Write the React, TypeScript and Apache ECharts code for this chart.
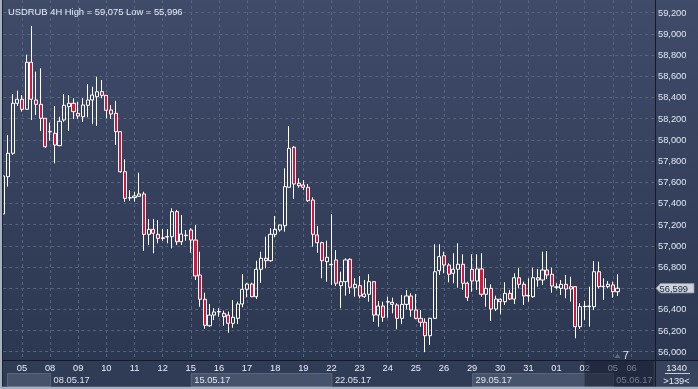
import React, { useEffect, useRef } from "react";
import * as echarts from "echarts";

const W = 698;
const H = 389;
const FONT = '"Liberation Sans", Arial, sans-serif';

// trading days on screen and how many 4H bars each one has
const dayNames = ["04.05", "05.05", "08.05", "09.05", "10.05", "11.05", "12.05", "15.05", "16.05", "17.05", "18.05", "19.05", "22.05", "23.05", "24.05", "25.05", "26.05", "29.05", "30.05", "31.05", "01.06", "02.06", "05.06"];
const barsPerDay = [4, 6, 6, 6, 6, 6, 6, 6, 6, 6, 6, 6, 6, 6, 6, 6, 6, 6, 6, 6, 6, 6, 2];
// empty slots right of the last bar
const futureSlots = ["05.06|2", "05.06|3", "06.06|0", "06.06|1", "06.06|2", "06.06|3", "06.06|4", "06.06|5"];

const weekFirstDay = ["08.05", "15.05", "22.05", "29.05", "05.06"];
const weekLabels = ["08.05.17", "15.05.17", "22.05.17", "29.05.17", "05.06.17"];
const shadedFromDay = "02.06";

const opens = [57300, 57652, 57873, 58345, 58383, 58288, 58732, 58376, 58335, 58203, 58075, 58062, 57945, 58187, 58313, 58345, 58250, 58218, 58326, 58376, 58407, 58455, 58420, 58282, 58250, 58077, 57699, 57451, 57454, 57467, 57489, 57108, 57155, 57108, 57070, 57083, 57086, 57322, 57038, 57095, 57149, 57054, 56724, 56495, 56245, 56346, 56375, 56362, 56346, 56268, 56315, 56450, 56589, 56639, 56519, 56778, 56882, 56859, 57108, 57149, 57189, 57552, 57930, 57590, 57574, 57552, 57432, 57102, 57029, 56850, 56825, 56866, 56623, 56661, 56872, 56604, 56623, 56519, 56542, 56661, 56346, 56431, 56469, 56466, 56441, 56315, 56447, 56526, 56394, 56315, 56278, 56151, 56315, 56765, 56906, 56818, 56740, 56778, 56825, 56646, 56778, 56667, 56781, 56542, 56598, 56403, 56495, 56472, 56551, 56497, 56698, 56636, 56526, 56519, 56698, 56677, 56771, 56731, 56608, 56598, 56636, 56614, 56614, 56236, 56429, 56425, 56425, 56755, 56614, 56614, 56630, 56566];
const closes = [57659, 57873, 58345, 58383, 58288, 58732, 58383, 58335, 58203, 57935, 58080, 57951, 58175, 58326, 58345, 58266, 58225, 58329, 58376, 58423, 58454, 58420, 58279, 58244, 58077, 57699, 57448, 57454, 57470, 57489, 57108, 57155, 57118, 57070, 57075, 57086, 57322, 57038, 57111, 57100, 57054, 56715, 56495, 56249, 56346, 56375, 56380, 56330, 56268, 56325, 56450, 56589, 56639, 56519, 56778, 56882, 56859, 57108, 57155, 57196, 57558, 57920, 57583, 57567, 57552, 57425, 57108, 57029, 56859, 56891, 56820, 56646, 56661, 56866, 56608, 56636, 56526, 56545, 56661, 56346, 56431, 56325, 56472, 56447, 56315, 56447, 56526, 56394, 56315, 56278, 56151, 56315, 56755, 56897, 56818, 56731, 56778, 56825, 56646, 56513, 56667, 56781, 56542, 56598, 56403, 56497, 56472, 56551, 56497, 56698, 56636, 56526, 56532, 56698, 56677, 56771, 56724, 56620, 56612, 56636, 56592, 56592, 56236, 56425, 56425, 56431, 56755, 56614, 56617, 56636, 56566, 56599];
const lows = [57290, 57558, 57857, 58319, 58266, 58285, 58187, 58234, 58083, 57926, 57992, 57778, 57940, 58171, 58083, 58197, 58197, 58171, 58213, 58147, 58131, 58392, 58203, 58197, 57951, 57690, 57416, 57425, 57416, 57465, 56953, 57007, 56929, 57023, 57048, 57023, 56976, 57007, 57007, 57048, 56934, 56677, 56425, 56217, 56236, 56299, 56330, 56245, 56179, 56226, 56261, 56419, 56513, 56515, 56497, 56651, 56787, 56850, 57080, 57133, 57133, 57550, 57441, 57548, 57526, 57416, 56991, 56934, 56693, 56661, 56630, 56620, 56410, 56529, 56545, 56519, 56504, 56510, 56472, 56283, 56236, 56283, 56321, 56362, 56211, 56259, 56400, 56330, 56306, 56236, 55996, 56063, 56310, 56724, 56740, 56655, 56646, 56604, 56582, 56479, 56566, 56582, 56519, 56425, 56290, 56384, 56353, 56441, 56488, 56450, 56598, 56441, 56472, 56510, 56614, 56630, 56686, 56557, 56589, 56535, 56504, 56472, 56126, 56214, 56300, 56236, 56394, 56598, 56488, 56598, 56510, 56526];
const highs = [57670, 58046, 58433, 58464, 58423, 58804, 59075, 58643, 58675, 58205, 58162, 58319, 58218, 58433, 58423, 58392, 58360, 58392, 58527, 58502, 58596, 58565, 58420, 58329, 58369, 58077, 57816, 57526, 57510, 57690, 57510, 57253, 57253, 57243, 57158, 57158, 57354, 57338, 57290, 57149, 57165, 57196, 56944, 56557, 56450, 56410, 56410, 56387, 56378, 56488, 56472, 56733, 56651, 56651, 56859, 56944, 57086, 57165, 57281, 57200, 57731, 58131, 57942, 57637, 57621, 57583, 57457, 57187, 57038, 57048, 57300, 56960, 56755, 56882, 56882, 56693, 56715, 56677, 56731, 56667, 56479, 56472, 56519, 56510, 56457, 56535, 56582, 56551, 56545, 56394, 56315, 56320, 57014, 57014, 56944, 56834, 56929, 57023, 56919, 56661, 56919, 56919, 56929, 56693, 56636, 56529, 56504, 56655, 56582, 56740, 56793, 56661, 56693, 56793, 56781, 56944, 56950, 56793, 56646, 56677, 56724, 56708, 56614, 56457, 56479, 56614, 56856, 56850, 56693, 56667, 56661, 56731];

const yTicksMin = 56000;
const yTicksMax = 59200;
const yStep = 200;
const barCountLabel = "1340";
const scrollLabel = ">139<";
const timerLabel = "7";

const categories: string[] = [];
dayNames.forEach((d, i) => {
  const n = barsPerDay[i];
  const start = i === 0 ? 6 - n : 0;
  for (let k = 0; k < n; k++) categories.push(`${d}|${start + k}`);
});
futureSlots.forEach((s) => categories.push(s));

const candles = opens.map((o, i) => [o, closes[i], lows[i], highs[i]]);
const fmt = (v: number) => v.toLocaleString("en-US");
const maxHigh = Math.max(...highs);
const minLow = Math.min(...lows);
const lastClose = closes[closes.length - 1];
const isDayStart = (v: string) => v.endsWith("|0");
// the tick hidden behind the last-price tag
const hiddenTick = Math.round(lastClose / yStep) * yStep;

const GRID_L = 3.2;
const GRID_R = 43;
const PLOT_BOTTOM = 360;

const gridDash = { color: "#56637e", width: 1, type: [3, 3] as number[] };

const option: any = {
  animation: false,
  backgroundColor: "transparent",
  title: {
    text: `USDRUB 4H High = ${fmt(maxHigh)} Low = ${fmt(minLow)}`,
    left: 3,
    top: 2,
    textStyle: { color: "#e8edf6", fontSize: 9.4, fontWeight: "normal", fontFamily: FONT },
  },
  grid: [
    { left: GRID_L, right: GRID_R, top: 0, bottom: H - PLOT_BOTTOM },
    { left: GRID_L, right: GRID_R, top: 12.7, height: 339 },
  ],
  xAxis: [
    {
      type: "category",
      gridIndex: 0,
      data: categories,
      boundaryGap: false,
      axisLine: { show: false },
      axisTick: { show: false },
      axisLabel: {
        interval: (_i: number, v: string) => isDayStart(v),
        formatter: (v: string) => v.slice(0, 2),
        color: "#e9eef7",
        fontSize: 9.3,
        fontFamily: FONT,
        margin: 3,
      },
      splitLine: { show: true, interval: (_i: number, v: string) => isDayStart(v), lineStyle: gridDash },
    },
    { type: "category", gridIndex: 1, data: categories, boundaryGap: false, show: false },
  ],
  yAxis: [
    { type: "value", gridIndex: 0, show: false, min: 0, max: 1, splitLine: { show: false } },
    {
      type: "value",
      gridIndex: 1,
      position: "right",
      min: yTicksMin,
      max: yTicksMax,
      interval: yStep,
      axisLine: { show: false },
      axisTick: { show: false },
      axisLabel: {
        color: "#e2e7f0",
        fontSize: 9.3,
        fontFamily: FONT,
        margin: 3,
        formatter: (v: number) => (v === hiddenTick ? "" : fmt(v)),
      },
      splitLine: { show: true, lineStyle: gridDash },
    },
  ],
  series: [
    {
      type: "candlestick",
      xAxisIndex: 1,
      yAxisIndex: 1,
      data: candles,
      barWidth: 3.6,
      clip: false,
      itemStyle: {
        color: "transparent",
        color0: "#e0103a",
        borderColor: "#ffffff",
        borderColor0: "#ffffff",
        borderColorDoji: "#ffffff",
        borderWidth: 1,
      },
    },
  ],
};

export default function App() {
  const ref = useRef<HTMLDivElement>(null);
  useEffect(() => {
    const el = ref.current!;
    const chart = echarts.init(el, null, { renderer: "svg", width: W, height: H });
    chart.setOption(option);

    const px = (cat: string) => chart.convertToPixel({ xAxisIndex: 0 }, categories.indexOf(cat)) as number;
    const py = (v: number) => chart.convertToPixel({ yAxisIndex: 1 }, v) as number;
    const txt = (text: string, x: number, y: number, fill: string, align = "left", size = 9.3, z = 40) => ({
      type: "text",
      z,
      style: { text, x, y, fill, align, verticalAlign: "middle", font: `${size}px ${FONT}` },
    });

    const g: any[] = [];
    // backgrounds
    g.push({
      type: "rect",
      z: -10,
      shape: { x: 0, y: 0, width: W, height: PLOT_BOTTOM },
      style: {
        fill: new echarts.graphic.LinearGradient(0, 0, 0, 1, [
          { offset: 0, color: "#3f4b69" },
          { offset: 1, color: "#2c3751" },
        ]),
      },
    });
    g.push({ type: "rect", z: -10, shape: { x: 0, y: PLOT_BOTTOM, width: W, height: H - PLOT_BOTTOM }, style: { fill: "#303b55" } });
    g.push({ type: "rect", z: -9, shape: { x: 656, y: PLOT_BOTTOM + 1, width: W - 656, height: H - PLOT_BOTTOM - 1 }, style: { fill: "#37425d" } });

    // week boxes and date labels
    const edges = [7, ...weekFirstDay.map((d) => px(`${d}|0`)), 653];
    for (let j = 0; j < edges.length - 1; j++) {
      if (j % 2 === 0) {
        g.push({
          type: "rect",
          z: -8,
          shape: { x: edges[j] + 0.5, y: 373.5, width: edges[j + 1] - edges[j], height: 13 },
          style: { fill: "#47526b", stroke: "#5a657d", lineWidth: 1 },
        });
      }
    }
    weekFirstDay.forEach((d, i) => {
      g.push(txt(weekLabels[i], px(`${d}|0`) + 3.5, 380, "#dfe4ee", "left", 9.3, 5));
    });

    // shaded future zone on the time scale
    const sx = px(`${shadedFromDay}|0`);
    g.push({ type: "rect", z: 50, shape: { x: sx, y: PLOT_BOTTOM + 1, width: 653.5 - sx, height: 25.5 }, style: { fill: "rgba(20,27,46,0.55)" } });

    // separators & frame
    g.push({ type: "line", z: 60, shape: { x1: 0, y1: PLOT_BOTTOM + 0.5, x2: W, y2: PLOT_BOTTOM + 0.5 }, style: { stroke: "#141a26", lineWidth: 1 } });
    g.push({ type: "line", z: 60, shape: { x1: 655.5, y1: 0, x2: 655.5, y2: H }, style: { stroke: "#141a26", lineWidth: 1 } });
    g.push({ type: "rect", z: 70, shape: { x: 0, y: 0, width: 2, height: H }, style: { fill: "#a7b0bf" } });
    g.push({ type: "line", z: 70, shape: { x1: 2.5, y1: 0, x2: 2.5, y2: H }, style: { stroke: "#1c2333", lineWidth: 1 } });
    g.push({ type: "rect", z: 70, shape: { x: 0, y: 386.7, width: W, height: 2.3 }, style: { fill: "#a7b0bf" } });

    // bottom-right info box
    g.push(txt(barCountLabel, 676.5, 367.7, "#e6ebf3", "center", 9.3, 60));
    g.push({ type: "line", z: 60, shape: { x1: 665, y1: 373.5, x2: 690, y2: 373.5 }, style: { stroke: "#c6cdd9", lineWidth: 1 } });
    g.push(txt(scrollLabel, 676.5, 380.7, "#e6ebf3", "center", 9.3, 60));

    // last-bar marker and timer
    const lx = px(categories[closes.length - 1]);
    g.push({ type: "polygon", z: 45, shape: { points: [[lx - 3, 358], [lx + 3, 358], [lx, 353.5]] }, style: { fill: "#5b6479" } });
    g.push(txt(timerLabel, lx + 8.5, 355, "#dce7fa", "center", 10.5, 46));

    // last price tag
    const yy = py(lastClose);
    g.push({
      type: "polygon",
      z: 60,
      shape: { points: [[656, yy], [660.5, yy - 4.7], [694, yy - 4.7], [694, yy + 4.7], [660.5, yy + 4.7]] },
      style: { fill: "#cdd2db", stroke: "#8c95a6", lineWidth: 0.8 },
    });
    g.push(txt(fmt(lastClose), 659.6, yy + 0.3, "#1d2638", "left", 9.3, 61));

    chart.setOption({ graphic: g });
    return () => chart.dispose();
  }, []);
  return <div ref={ref} style={{ position: "fixed", left: 0, top: 0, width: W, height: H }} />;
}
